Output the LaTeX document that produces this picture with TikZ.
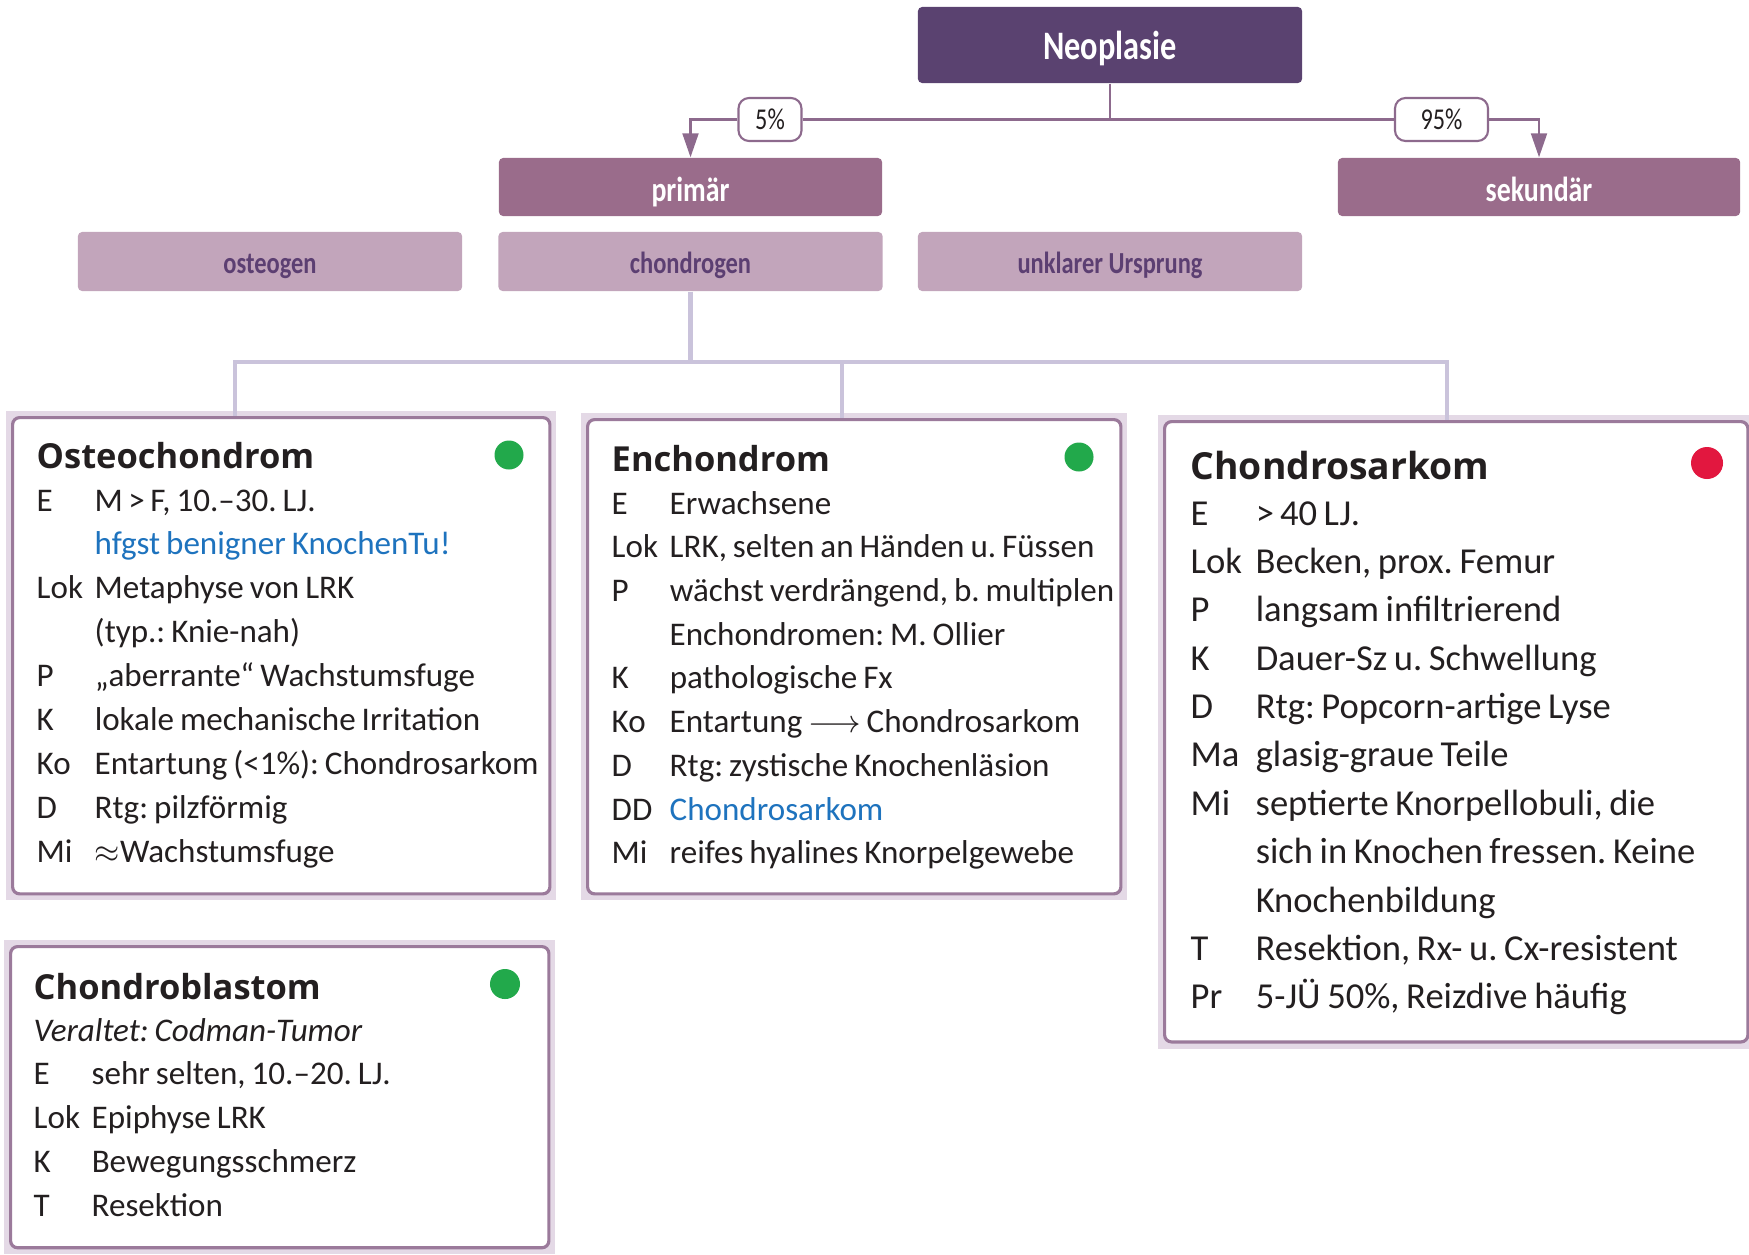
\documentclass[tikz,border=0pt]{standalone}
\usepackage{fontspec}
\setmainfont{Carlito}[WordSpace=0.8]
\newfontfamily\headfont{Open Sans}
\newfontfamily\condfont{Carlito}[FakeStretch=0.8]
\usepackage{xcolor}
\usepackage{tikz}
\usetikzlibrary{calc,arrows.meta,backgrounds}
\definecolor{neo}{HTML}{5A4270}
\definecolor{mid}{HTML}{9A6C8B}
\definecolor{pale}{HTML}{C2A5BB}
\definecolor{paletext}{HTML}{5C3F72}
\definecolor{wire}{HTML}{8D6A8D}
\definecolor{treec}{HTML}{CAC3DB}
\definecolor{frame}{HTML}{9B7A9B}
\definecolor{framebg}{HTML}{E4D9E6}
\definecolor{ink}{HTML}{231F20}
\definecolor{okgreen}{HTML}{22A94B}
\definecolor{badred}{HTML}{E2173F}
\definecolor{hlblue}{HTML}{1E73BE}
\frenchspacing
\tikzset{
  neobox/.style={fill=neo, text=white, rounded corners=1.2pt, minimum width=3.84cm, minimum height=0.76cm, text height=8pt, text depth=0pt, font=\condfont\bfseries\fontsize{11.5}{13}\selectfont},
  midbox/.style={fill=mid, text=white, rounded corners=1.2pt, minimum height=0.58cm, text height=8.3pt, text depth=0pt, font=\condfont\bfseries\fontsize{9.9}{11}\selectfont},
  subbox/.style={fill=pale, text=paletext, rounded corners=1.2pt, minimum width=3.84cm, minimum height=0.59cm, text height=7.1pt, text depth=0pt, font=\condfont\bfseries\fontsize{8.7}{10}\selectfont},
  pct/.style={draw=wire, fill=white, line width=0.6pt, rounded corners=3pt, minimum height=0.43cm, inner sep=0pt, text=ink, font=\condfont\fontsize{8.6}{9}\selectfont},
  link/.style={draw=wire, line width=0.6pt},
  tip/.style={-{Triangle[length=0.24cm,width=0.16cm]}},
  tree/.style={draw=treec, line width=1.2pt},
  tumbox/.style={draw=frame, line width=0.9pt, fill=white, rounded corners=2pt, anchor=north west, inner sep=0pt},
  head/.style={anchor=base west, inner sep=0pt, text=ink, font=\headfont\bfseries\fontsize{9.8}{12}\selectfont},
  rows/.style={anchor=base west, inner sep=0pt, text=ink, font=\fontsize{9.4}{12.48}\selectfont},
  dot/.style={circle, inner sep=0pt, minimum size=0.29cm},
}

\begin{document}
\begin{tikzpicture}[x=0.01cm, y=-0.01cm]
  \useasboundingbox (0,0) rectangle (1749,1254);

  % upper tree
  \node[neobox] (neo) at (1110,45) {Neoplasie};
  \node[midbox, minimum width=3.83cm] (prim) at (690.5,187) {primär};
  \node[midbox, minimum width=4.02cm] (sek) at (1539,187) {sekundär};
  \node[subbox] (osteog) at (270,261.5) {osteogen};
  \node[subbox] (chondrog) at (690.5,261.5) {chondrogen};
  \node[subbox] (unkl) at (1110,261.5) {unklarer Ursprung};

  \node[pct, minimum width=0.63cm] (p5) at (770,119.5) {5\%};
  \node[pct, minimum width=0.93cm] (p95) at (1441.5,119.5) {95\%};

  \begin{scope}[on background layer]
    \draw[link] (neo.south) -- (neo.south |- p5.center);
    \draw[link] (p5.east) -- (p95.west);
  \end{scope}
  \draw[link,tip] (p5.west) -| (prim.north);
  \draw[link,tip] (p95.east) -| (sek.north);

  % tumour boxes
  \node[tumbox, minimum width=5.37cm, minimum height=4.76cm] (osteo) at (11,416) {};
  \node[tumbox, minimum width=5.33cm, minimum height=4.74cm] (ench) at (586,418) {};
  \node[tumbox, minimum width=5.83cm, minimum height=6.20cm] (sarkom) at (1163,420) {};
  \node[tumbox, minimum width=5.38cm, minimum height=3.01cm] (blast) at (9,945) {};

  \coordinate (jO) at (235,362);
  \coordinate (jE) at (842,362);
  \coordinate (jS) at (1447,362);

  \begin{scope}[on background layer]
    \foreach \b in {osteo,ench,sarkom,blast}
      \fill[framebg] ($(\b.north west)+(-5,-5)$) rectangle ($(\b.south east)+(5,5)$);
    \draw[tree] (chondrog.south) -- (chondrog.south |- jO);
    \draw[tree] (osteo.north -| jO) -- (jO) -- (jS) -- (sarkom.north -| jS);
    \draw[tree] (jE) -- (ench.north -| jE);
  \end{scope}

  % Osteochondrom
  \node[head] (osteoT) at (36,468) {Osteochondrom};
  \node[dot, fill=okgreen] (osteoD) at (509,455) {};
  \node[rows] (osteoR) at (36,511) {\begin{tabular}[t]{@{}p{0.58cm}@{}l@{}}
    E & M\,>\,F, 10.–30. LJ.\\
      & \textcolor{hlblue}{hfgst benigner KnochenTu!}\\
    Lok & Metaphyse von LRK\\
      & (typ.: Knie-nah)\\
    P & „aberrante“ Wachstumsfuge\\
    K & lokale mechanische Irritation\\
    Ko & Entartung (<1\%): Chondrosarkom\\
    D & Rtg: pilzförmig\\
    Mi & $\approx$Wachstumsfuge
  \end{tabular}};

  % Enchondrom
  \node[head] (enchT) at (611,471) {Enchondrom};
  \node[dot, fill=okgreen] (enchD) at (1079,457) {};
  \node[rows, font=\fontsize{9.4}{12.44}\selectfont] (enchR) at (611,514) {\begin{tabular}[t]{@{}p{0.58cm}@{}l@{}}
    E & Erwachsene\\
    Lok & LRK, selten an Händen u. Füssen\\
    P & wächst verdrängend, b. multiplen\\
      & Enchondromen: M. Ollier\\
    K & pathologische Fx\\
    Ko & Entartung $\longrightarrow$ Chondrosarkom\\
    D & Rtg: zystische Knochenläsion\\
    DD & \textcolor{hlblue}{Chondrosarkom}\\
    Mi & reifes hyalines Knorpelgewebe
  \end{tabular}};

  % Chondrosarkom
  \node[head, font=\headfont\bfseries\fontsize{10.6}{12}\selectfont] (sarkomT) at (1190,479) {Chondrosarkom};
  \node[dot, fill=badred, minimum size=0.32cm] (sarkomD) at (1707,463) {};
  \node[rows, font=\fontsize{10.4}{13.76}\selectfont] (sarkomR) at (1190,525) {\begin{tabular}[t]{@{}p{0.65cm}@{}l@{}}
    E & >\,40 LJ.\\
    Lok & Becken, prox. Femur\\
    P & langsam infiltrierend\\
    K & Dauer-Sz u. Schwellung\\
    D & Rtg: Popcorn-artige Lyse\\
    Ma & glasig-graue Teile\\
    Mi & septierte Knorpellobuli, die\\
      & sich in Knochen fressen. Keine\\
      & Knochenbildung\\
    T & Resektion, Rx- u. Cx-resistent\\
    Pr & 5-JÜ 50\%, Reizdive häufig
  \end{tabular}};

  % Chondroblastom
  \node[head] (blastT) at (33,999) {Chondroblastom};
  \node[dot, fill=okgreen, minimum size=0.30cm] (blastD) at (505,984) {};
  \node[rows] (blastR) at (33,1041) {\begin{tabular}[t]{@{}p{0.58cm}@{}l@{}}
    \multicolumn{2}{@{}l@{}}{\textit{Veraltet: Codman-Tumor}}\\
    E & sehr selten, 10.–20. LJ.\\
    Lok & Epiphyse LRK\\
    K & Bewegungsschmerz\\
    T & Resektion
  \end{tabular}};
\end{tikzpicture}
\end{document}
